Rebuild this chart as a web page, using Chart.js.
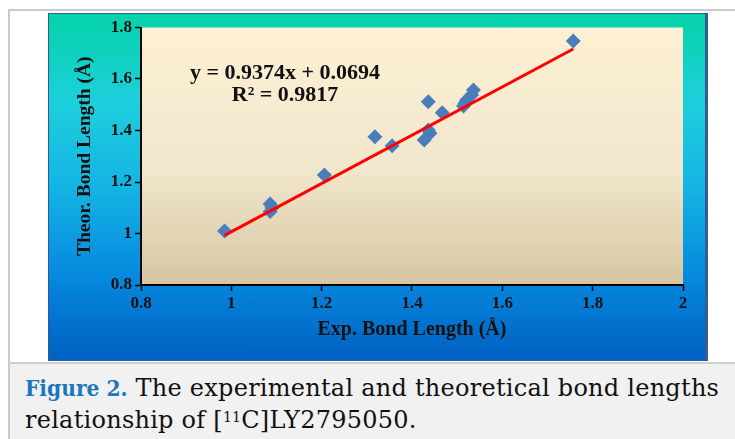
<!DOCTYPE html>
<html>
<head>
<meta charset="utf-8">
<script src="https://cdn.jsdelivr.net/npm/chart.js@4.4.1/dist/chart.umd.min.js"></script>
<style>
  html, body { margin: 0; padding: 0; background: #ffffff; }
  body { width: 735px; height: 439px; position: relative; overflow: hidden; }
  #marco {
    position: absolute; left: 8px; top: 9px; width: 740px; height: 440px;
    border-top: 2px solid #cacaca; border-left: 2px solid #cacaca;
  }
  #panel {
    position: absolute; left: 48px; top: 13px; width: 658px; height: 348px;
    background: linear-gradient(to bottom, #05d3a8 0%, #1dcfdc 26%, #14b4e4 50%, #0688de 76%, #0060c2 100%);
    box-shadow: inset 0 0 0 1px #2d5c93, 2px 0 0 #3a5d8c;
  }
  #panel canvas { position: absolute; left: 0; top: 0; }
  #leyenda {
    position: absolute; left: 8px; top: 362px; width: 740px; height: 80px;
    background: #f1f1f1; border-top: 2px solid #cfcfcf; border-left: 2px solid #cacaca;
    box-sizing: border-box;
    font-family: "DejaVu Serif", serif;
    font-size: 24px; line-height: 32px; color: #111; letter-spacing: 0.25px;
    padding: 8px 0 0 15px; white-space: nowrap;
  }
  #leyenda b { color: #1c76bf; font-family: "DejaVu Serif Condensed", "DejaVu Serif", serif; font-size: 22.5px; letter-spacing: 0; }
  sup { font-size: 14px; vertical-align: 6px; line-height: 0; }
</style>
</head>
<body>
<div id="marco"></div>
<div id="panel"><canvas id="grafico" width="658" height="348"></canvas></div>
<div id="leyenda"><b>Figure 2.</b> The experimental and theoretical bond lengths<br>relationship of [<sup>11</sup>C]LY2795050.</div>
<script>
// valores
const expX  = [0.985, 1.086, 1.09, 1.086, 1.206, 1.318, 1.356, 1.427, 1.44, 1.436, 1.436, 1.467, 1.514, 1.517, 1.521, 1.532, 1.536, 1.757];
const teorY = [1.01, 1.115, 1.10, 1.085, 1.227, 1.376, 1.341, 1.363, 1.389, 1.402, 1.512, 1.469, 1.495, 1.506, 1.518, 1.538, 1.557, 1.748];
const pendiente = 0.9374;
const intercepto = 0.0694;
const ecuacion = ["y = 0.9374x + 0.0694", "R\u00b2 = 0.9817"];

const puntos = expX.map((x, i) => ({ x: x, y: teorY[i] }));
const xMin = Math.min(...expX), xMax = Math.max(...expX);
const tendencia = [xMin, xMax].map(x => ({ x: x, y: pendiente * x + intercepto }));

const fuenteTimes = "'Liberation Serif', 'Times New Roman', serif";
const formatoTick = (v) => String(Number(v.toFixed(1)));

// fondo crema del área de trazado
const fondoArea = {
  id: "fondoArea",
  beforeDraw(chart) {
    const { ctx, chartArea: a } = chart;
    const g = ctx.createLinearGradient(0, a.top, 0, a.bottom);
    g.addColorStop(0, "#fdf0d4");
    g.addColorStop(0.55, "#f1e7cd");
    g.addColorStop(1, "#d6c6a2");
    ctx.save();
    ctx.fillStyle = g;
    ctx.fillRect(a.left, a.top, a.right - a.left, a.bottom - a.top);
    ctx.restore();
  }
};

// texto de la ecuación de la recta
const textoEcuacion = {
  id: "textoEcuacion",
  afterDatasetsDraw(chart) {
    const { ctx, scales } = chart;
    const px = scales.x.getPixelForValue(1.119);
    ctx.save();
    ctx.fillStyle = "#111";
    ctx.font = "bold 22px " + fuenteTimes;
    ctx.textAlign = "center";
    ctx.textBaseline = "middle";
    ctx.fillText(ecuacion[0], px, scales.y.getPixelForValue(1.623));
    ctx.fillText(ecuacion[1], px, scales.y.getPixelForValue(1.536));
    ctx.restore();
  }
};

new Chart(document.getElementById("grafico").getContext("2d"), {
  type: "scatter",
  data: {
    datasets: [
      {
        label: "Bond length",
        data: puntos,
        pointStyle: "rectRot",
        pointRadius: 7.5,
        pointBackgroundColor: "#4a7ebb",
        pointBorderColor: "#4a7ebb",
        pointBorderWidth: 0,
        order: 2
      },
      {
        label: "Linear",
        data: tendencia,
        showLine: true,
        borderColor: "#ff0000",
        borderWidth: 3,
        pointRadius: 0,
        order: 1
      }
    ]
  },
  options: {
    responsive: false,
    animation: false,
    layout: { padding: { top: 14.5, right: 23, left: 0, bottom: 0 } },
    plugins: { legend: { display: false }, tooltip: { enabled: false } },
    scales: {
      x: {
        type: "linear",
        min: 0.8, max: 2,
        afterFit: (s) => { s.height = 76; },
        ticks: { stepSize: 0.2, color: "#111", padding: 2, font: { family: fuenteTimes, size: 17, weight: "bold" }, callback: formatoTick },
        grid: { drawOnChartArea: false, drawTicks: true, tickLength: 6, color: "#000", tickWidth: 1.5 },
        border: { color: "#000", width: 2 },
        title: { display: true, text: "Exp. Bond Length (\u00c5)", color: "#111", font: { family: fuenteTimes, size: 20, weight: "bold" }, padding: { bottom: 19 } }
      },
      y: {
        type: "linear",
        min: 0.8, max: 1.8,
        afterFit: (s) => { s.width = 93; },
        ticks: { stepSize: 0.2, color: "#111", padding: 3, font: { family: fuenteTimes, size: 17, weight: "bold" }, callback: formatoTick },
        grid: { drawOnChartArea: false, drawTicks: true, tickLength: 6, color: "#000", tickWidth: 1.5 },
        border: { color: "#000", width: 2 },
        title: { display: true, text: "Theor. Bond Length (\u00c5)", color: "#111", font: { family: fuenteTimes, size: 19.5, weight: "bold" }, padding: { top: 25 } }
      }
    }
  },
  plugins: [fondoArea, textoEcuacion]
});
</script>
</body>
</html>
